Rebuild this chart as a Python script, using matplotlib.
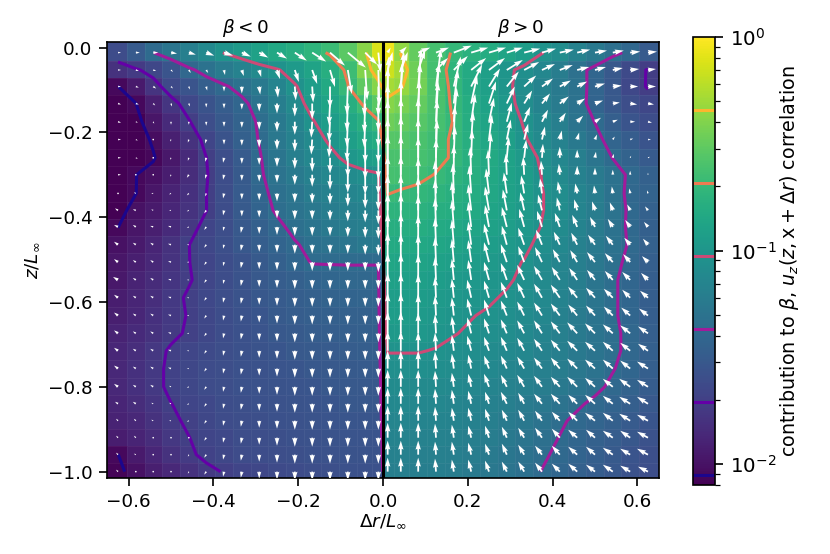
import numpy as np
import matplotlib
matplotlib.use("Agg")
import matplotlib.pyplot as plt
from matplotlib.colors import LogNorm

# cell centres
x_pos = [-0.625, -0.583, -0.542, -0.5, -0.458, -0.417, -0.375, -0.333, -0.292, -0.25, -0.208, -0.167, -0.125, -0.083, -0.042, -0.011,
         0.011, 0.042, 0.083, 0.125, 0.167, 0.208, 0.25, 0.292, 0.333, 0.375, 0.417, 0.458, 0.5, 0.542, 0.583, 0.625]
z_pos = [-0.012, -0.053, -0.092, -0.132, -0.175, -0.217, -0.26, -0.30, -0.344, -0.384, -0.423, -0.465, -0.506,
         -0.548, -0.59, -0.632, -0.674, -0.715, -0.757, -0.80, -0.84, -0.88, -0.92, -0.96, -1.0]

# -100*log10(contribution), one row per z
corr_exp = [
    [162,150,137,128,120,111,102,96,90,84,79,73,67,54,37,12, 5,35,50,62,70,76,81,87,94,102,108,117,125,133,140,150],
    [180,173,165,155,140,131,123,117,110,104,96,88,78,66,40,28, 16,28,46,63,73,82,92,100,106,113,122,132,141,152,163,172],
    [205,195,178,163,155,147,139,131,125,115,104,94,83,69,52,38, 28,33,45,61,72,82,91,100,108,116,124,131,142,153,164,172],
    [212,205,192,177,164,156,149,141,130,121,110,97,87,78,66,54, 38,43,50,60,71,80,89,98,108,116,123,131,143,152,160,165],
    [214,209,198,185,172,160,152,144,135,125,115,104,94,85,77,70, 46,50,55,62,69,79,87,95,104,112,120,129,137,147,155,161],
    [216,212,203,191,180,167,156,146,136,126,118,110,100,92,85,81, 55,56,60,65,70,78,85,92,101,110,117,125,133,142,149,155],
    [217,214,206,196,185,171,160,150,138,128,120,113,107,99,94,91, 60,60,62,65,70,77,83,89,96,105,113,120,128,137,144,150],
    [215,205,201,193,183,172,161,151,139,130,124,118,113,109,106,104, 62,63,65,69,74,78,84,89,95,103,110,118,124,131,139,145],
    [213,205,198,190,181,171,160,150,141,133,128,122,118,114,112,110, 68,70,72,74,77,81,85,90,95,102,108,115,122,131,140,144],
    [210,200,195,187,179,171,161,151,143,135,130,126,122,119,117,116, 74,75,76,78,80,83,87,91,96,102,108,115,122,130,139,145],
    [205,198,192,185,176,167,160,152,146,140,133,129,125,122,120,119, 78,79,80,82,84,87,90,93,98,103,109,116,123,131,139,146],
    [200,195,188,180,171,165,159,153,148,143,138,133,130,128,125,124, 82,83,84,86,88,91,94,97,100,106,112,118,124,131,138,145],
    [198,192,186,179,171,167,161,156,151,146,141,136,136,136,136,136, 86,87,88,90,92,95,97,100,103,109,114,120,126,133,140,147],
    [196,190,184,177,172,166,161,156,152,149,146,143,141,140,140,140, 90,91,92,94,96,98,100,101,105,110,115,121,128,135,141,148],
    [193,188,182,175,169,164,160,156,153,150,148,146,144,143,142,142, 93,94,95,96,98,100,101,104,107,111,116,122,128,135,141,148],
    [192,187,181,175,170,165,161,157,154,151,149,147,146,145,145,144, 94,95,96,98,100,102,104,106,109,113,118,123,129,135,141,148],
    [190,185,180,174,169,165,161,158,155,153,151,149,148,147,146,146, 97,97,98,100,102,104,106,108,111,115,119,124,129,134,140,147],
    [187,182,176,169,166,163,160,158,156,154,152,151,150,149,148,148, 102,102,102,103,105,107,109,111,113,117,120,125,129,134,140,146],
    [186,181,175,168,165,162,160,158,157,155,154,153,152,151,150,150, 106,106,106,107,108,110,112,114,116,119,122,126,130,136,141,147],
    [186,181,175,168,165,162,160,158,157,156,155,154,153,152,152,152, 109,109,110,110,111,113,115,117,119,122,125,129,134,139,144,149],
    [188,183,177,171,167,164,161,159,158,157,156,155,154,153,153,153, 112,112,113,113,114,116,118,120,123,126,130,135,139,143,147,152],
    [190,186,180,173,169,165,162,160,159,158,157,156,155,154,154,154, 114,114,115,115,116,118,120,123,126,130,135,139,142,146,150,154],
    [193,189,183,176,171,167,164,161,160,159,158,157,156,155,155,155, 116,116,117,117,118,120,122,125,128,133,137,141,145,149,153,157],
    [205,195,187,180,173,168,165,162,161,160,159,158,157,156,156,156, 118,118,119,119,120,122,124,127,131,135,139,143,147,151,155,159],
    [208,200,192,186,180,174,170,167,165,163,162,160,159,158,158,158, 120,120,121,121,122,124,126,129,133,137,141,145,149,153,157,160],
]

# arrow components, in pixels of drawn length
arrow_u = [
    [3,4,5,6,7,8,9,9,9,10,12,14,15,18,12,2, 3,6,12,13,18,17,17,16,16,14,14,13,12,11,10,9],
    [3,3,3,2,2,2,1,2,2,3,4,5,5,4,2,1, 5,7,7,12,14,15,16,16,15,13,13,12,11,10,9,8],
    [3,3,3,2,1,1,0,0,1,1,1,1,0,-1,-1,0, 1,3,3,5,7,11,11,12,12,11,11,10,10,9,8,8],
    [3,3,2,1,1,0,0,0,0,0,0,0,-1,-1,-1,0, 0,1,2,3,4,6,7,8,8,8,9,8,8,7,7,6],
    [3,2,1,0,0,0,0,0,0,0,0,-1,-1,-1,-1,0, 0,0,1,2,3,4,5,5,6,6,6,6,6,5,5,4],
    [3,2,1,-1,-1,-1,0,0,0,0,0,-1,-1,-1,0,0, 0,0,0,1,1,2,3,4,4,3,2,2,2,2,3,3],
    [3,2,1,-1,-1,-1,-1,0,0,0,0,0,0,0,0,0, 0,0,0,1,1,1,2,2,2,1,0,0,1,1,1,2],
    [3,1,0,-1,-2,-1,-1,0,0,0,0,0,0,0,0,0, 0,0,0,0,0,-1,-1,-1,-1,-1,-1,0,0,0,0,0],
    [-1,-2,-2,-2,-2,-1,-1,0,0,0,0,0,0,0,0,0, 0,0,0,-1,-1,-2,-3,-3,-3,-2,-2,-2,-1,-1,-1,-1],
    [-3,-3,-2,-2,-2,-2,-1,0,0,0,0,0,0,0,0,0, 0,0,0,-1,-2,-3,-4,-4,-4,-4,-3,-3,-3,-3,-3,-3],
    [-4,-3,-3,-3,-2,-2,-1,-1,0,0,0,0,0,0,0,0, 0,0,0,-1,-2,-3,-4,-5,-5,-5,-5,-5,-5,-5,-5,-4],
    [-4,-3,-3,-3,-2,-2,-1,-1,0,0,0,0,0,0,0,0, 0,0,0,-1,-2,-3,-5,-5,-6,-6,-6,-6,-7,-7,-6,-5],
    [-4,-3,-3,-3,-2,-2,-1,-1,0,0,0,0,0,0,0,0, 0,0,0,-1,-2,-3,-5,-6,-6,-7,-7,-7,-8,-8,-7,-6],
    [-5,-3,-3,-3,-2,-2,-1,-1,0,0,0,0,0,0,0,0, 0,0,0,-1,-2,-3,-5,-6,-7,-8,-8,-8,-8,-8,-8,-7],
    [-4,-3,-3,-3,-2,-2,-1,-1,0,0,0,0,0,0,0,0, 0,0,0,-1,-2,-4,-5,-6,-7,-8,-9,-9,-9,-9,-8,-8],
    [-4,-3,-3,-3,-2,-2,-1,-1,0,0,0,0,0,0,0,0, 0,0,0,-1,-2,-4,-5,-6,-7,-8,-9,-9,-9,-9,-9,-9],
    [-4,-3,-3,-3,-2,-2,-1,-1,0,0,0,0,0,0,0,0, 0,0,0,-1,-2,-4,-5,-6,-7,-8,-9,-10,-10,-10,-10,-10],
    [-4,-3,-3,-3,-2,-2,-1,-1,0,0,0,0,0,0,0,0, 0,0,0,-1,-2,-4,-5,-6,-7,-8,-9,-10,-10,-10,-10,-10],
    [-4,-3,-3,-3,-2,-2,-1,-1,0,0,0,0,0,0,0,0, 0,0,0,-1,-2,-3,-5,-6,-7,-8,-9,-10,-10,-10,-10,-11],
    [-4,-3,-3,-2,-2,-2,-1,-1,0,0,0,0,0,0,0,0, 0,0,0,-1,-2,-3,-5,-6,-7,-8,-9,-10,-10,-10,-11,-11],
    [-3,-3,-2,-2,-2,-2,-1,-1,0,0,0,0,0,0,0,0, 0,0,0,-1,-2,-3,-4,-6,-6,-8,-9,-9,-10,-10,-11,-11],
    [-2,-2,-2,-2,-2,-2,-1,-1,0,0,0,0,0,0,0,0, 0,0,0,-1,-2,-3,-4,-5,-6,-7,-8,-9,-10,-10,-11,-11],
    [-2,-2,-1,-1,-1,-2,-1,-1,0,0,0,0,0,0,0,0, 0,0,0,-1,-2,-3,-4,-5,-6,-7,-8,-9,-9,-10,-10,-11],
    [-2,-2,-1,-1,-1,-2,-1,-1,0,0,0,0,0,0,0,0, 0,0,0,-1,-2,-3,-4,-5,-6,-7,-8,-9,-9,-10,-10,-11],
    [-2,-1,-1,-1,-1,-2,-1,-1,0,0,0,0,0,0,0,0, 0,0,0,-1,-2,-3,-4,-5,-6,-7,-8,-9,-9,-10,-10,-10],
]

arrow_v = [
    [0,0,0,-1,-2,-3,-3,-4,-5,-6,-8,-9,-13,-15,-12,-20, 5,6,5,5,7,5,5,5,4,4,3,3,2,2,1,1],
    [0,-1,-1,-2,-3,-3,-5,-6,-7,-9,-12,-14,-17,-24,-30,-36, 18,18,20,12,14,12,12,10,8,6,5,3,3,2,1,1],
    [0,-1,-2,-2,-3,-4,-5,-7,-8,-11,-14,-16,-22,-28,-30,-30, 30,35,38,38,30,22,18,15,11,8,6,5,3,1,0,0],
    [-1,-1,-2,-3,-3,-4,-5,-6,-8,-10,-13,-16,-22,-28,-30,-28, 36,40,40,40,34,28,22,17,13,10,7,5,3,1,-1,-1],
    [-1,-1,-2,-3,-3,-4,-5,-6,-8,-10,-13,-16,-20,-25,-26,-26, 38,42,42,40,34,28,24,19,15,12,9,6,4,2,0,-1],
    [0,-1,-1,-2,-3,-4,-5,-6,-8,-10,-12,-15,-18,-22,-24,-24, 40,42,42,40,34,28,25,20,16,13,9,7,5,3,1,0],
    [0,-1,-1,-2,-3,-4,-5,-6,-7,-9,-11,-14,-16,-20,-22,-22, 40,42,40,38,32,28,25,21,18,14,11,8,6,4,2,1],
    [0,0,-1,-2,-3,-4,-5,-6,-7,-8,-10,-12,-15,-18,-20,-20, 40,40,38,36,30,28,25,21,18,14,11,9,7,5,4,2],
    [1,1,0,-1,-2,-3,-5,-6,-7,-8,-9,-10,-11,-13,-15,-17, 38,38,36,33,30,28,25,21,18,15,12,10,8,7,5,3],
    [2,1,1,0,-1,-3,-5,-6,-7,-8,-9,-9,-10,-11,-12,-14, 36,36,34,31,29,26,24,21,18,16,13,11,9,8,6,4],
    [2,2,1,1,-1,-3,-4,-6,-7,-8,-9,-9,-9,-10,-11,-12, 34,34,32,29,27,25,22,20,18,16,14,12,10,8,7,5],
    [3,2,2,1,0,-3,-4,-6,-7,-8,-9,-9,-9,-9,-10,-11, 32,32,30,27,25,23,21,19,17,15,13,12,10,9,7,6],
    [3,2,2,1,0,-3,-4,-6,-7,-8,-9,-9,-9,-9,-9,-10, 30,29,28,25,23,22,20,18,16,15,13,12,10,9,8,6],
    [3,2,2,1,0,-3,-4,-6,-7,-8,-9,-9,-9,-9,-9,-9, 27,27,26,23,21,20,18,17,15,14,13,12,10,9,8,7],
    [3,2,2,1,0,-3,-5,-6,-7,-8,-9,-9,-9,-9,-9,-9, 25,25,24,21,19,18,17,16,15,14,13,11,10,9,8,7],
    [3,2,2,1,0,-3,-5,-6,-7,-8,-9,-9,-9,-9,-9,-9, 23,23,22,20,18,17,16,15,14,13,12,11,10,9,8,7],
    [3,2,2,1,0,-3,-5,-6,-7,-8,-9,-9,-9,-9,-9,-9, 22,22,21,19,17,16,15,14,13,13,12,11,10,9,8,7],
    [3,2,2,1,0,-3,-5,-6,-7,-8,-9,-9,-9,-9,-9,-9, 20,20,19,18,16,15,14,14,13,12,11,10,9,9,8,7],
    [3,2,2,1,0,-3,-5,-6,-7,-8,-9,-9,-9,-9,-9,-9, 18,18,18,17,15,14,13,13,12,11,11,10,9,9,8,7],
    [3,2,2,1,-1,-3,-5,-6,-7,-8,-9,-9,-9,-9,-9,-9, 17,17,17,16,14,13,13,12,12,11,10,10,9,8,8,7],
    [2,2,1,1,-1,-3,-5,-6,-7,-8,-9,-9,-9,-9,-9,-9, 16,16,16,15,14,13,12,12,11,10,10,9,9,8,7,7],
    [2,2,1,0,-1,-3,-5,-6,-7,-8,-9,-9,-9,-9,-9,-9, 15,15,15,14,13,13,12,11,11,10,9,9,8,8,7,6],
    [2,2,1,0,-1,-3,-5,-6,-7,-8,-9,-9,-9,-9,-9,-9, 15,15,15,14,13,12,12,11,10,10,9,8,8,7,7,6],
    [2,1,0,0,-2,-3,-5,-6,-7,-8,-9,-9,-9,-9,-9,-9, 14,14,14,13,13,12,11,11,10,9,9,8,8,7,6,6],
    [2,1,0,-1,-2,-3,-5,-6,-7,-8,-9,-9,-9,-9,-9,-9, 14,14,14,13,12,12,11,10,10,9,8,8,7,7,6,5],
]

contour_levels = [0.00895, 0.0196, 0.043, 0.0944, 0.207, 0.455]
xticks = [-0.6, -0.4, -0.2, 0.0, 0.2, 0.4, 0.6]
yticks = [0.0, -0.2, -0.4, -0.6, -0.8, -1.0]

W, H = 830, 554
DPI = 110

corr = 10.0 ** (-np.array(corr_exp) / 100.0)
x = np.array(x_pos)
z = np.array(z_pos)

# cell edges halfway between centres, outer ones out to the axes limits
x_edges = np.concatenate([[-0.651], (x[1:] + x[:-1]) / 2, [0.651]])
z_edges = np.concatenate([[0.013], (z[1:] + z[:-1]) / 2, [-1.015]])

plt.rcParams["axes.linewidth"] = 1.1
plt.rcParams["xtick.major.width"] = 1.1
plt.rcParams["ytick.major.width"] = 1.1
plt.rcParams["ytick.minor.width"] = 0.8
plt.rcParams["xtick.major.size"] = 5
plt.rcParams["ytick.major.size"] = 5
plt.rcParams["ytick.minor.size"] = 3.2
plt.rcParams["xtick.major.pad"] = 4.5
plt.rcParams["ytick.major.pad"] = 4.5

fig = plt.figure(figsize=(W / DPI, H / DPI), dpi=DPI)
ax = fig.add_axes([107 / W, 1 - 478 / H, 552 / W, 436 / H])

norm = LogNorm(vmin=0.008, vmax=1)
mesh = ax.pcolormesh(x_edges, z_edges, corr, cmap="viridis", norm=norm, shading="flat",
                     edgecolors=(1, 1, 1, 0.05), linewidth=0.5)
lines = ax.contour(x, z, corr, levels=contour_levels, cmap="plasma", norm=LogNorm(vmin=0.008, vmax=1), linewidths=2)
ax.quiver(x, z, np.array(arrow_u), np.array(arrow_v), color="white", angles="uv", scale_units="dots", scale=1,
          units="dots", width=1.8, zorder=3)
ax.axvline(0, color="black", lw=2, zorder=4)

ax.set_xlim(-0.651, 0.651)
ax.set_ylim(-1.015, 0.013)
ax.set_xticks(xticks)
ax.set_yticks(yticks)
ax.tick_params(labelsize=12)
ax.set_xlabel(r"$\Delta r / L_\infty$", labelpad=1, fontsize=12)
ax.set_ylabel(r"$z / L_\infty$", labelpad=4, fontsize=12)
ax.text(-0.325, 0.02, r"$\beta < 0$", ha="center", va="bottom", fontsize=12)
ax.text(0.325, 0.02, r"$\beta > 0$", ha="center", va="bottom", fontsize=12)

cax = fig.add_axes([693 / W, 1 - 485 / H, 22 / W, 448 / H])
cbar = fig.colorbar(mesh, cax=cax)
cbar.add_lines(lines)
cax.tick_params(labelsize=13)
cbar.set_label(r"contribution to $\beta$, $u_z(z, \mathrm{x} + \Delta r)$ correlation", fontsize=12.5, labelpad=1)

fig.savefig("out.png", dpi=DPI)
